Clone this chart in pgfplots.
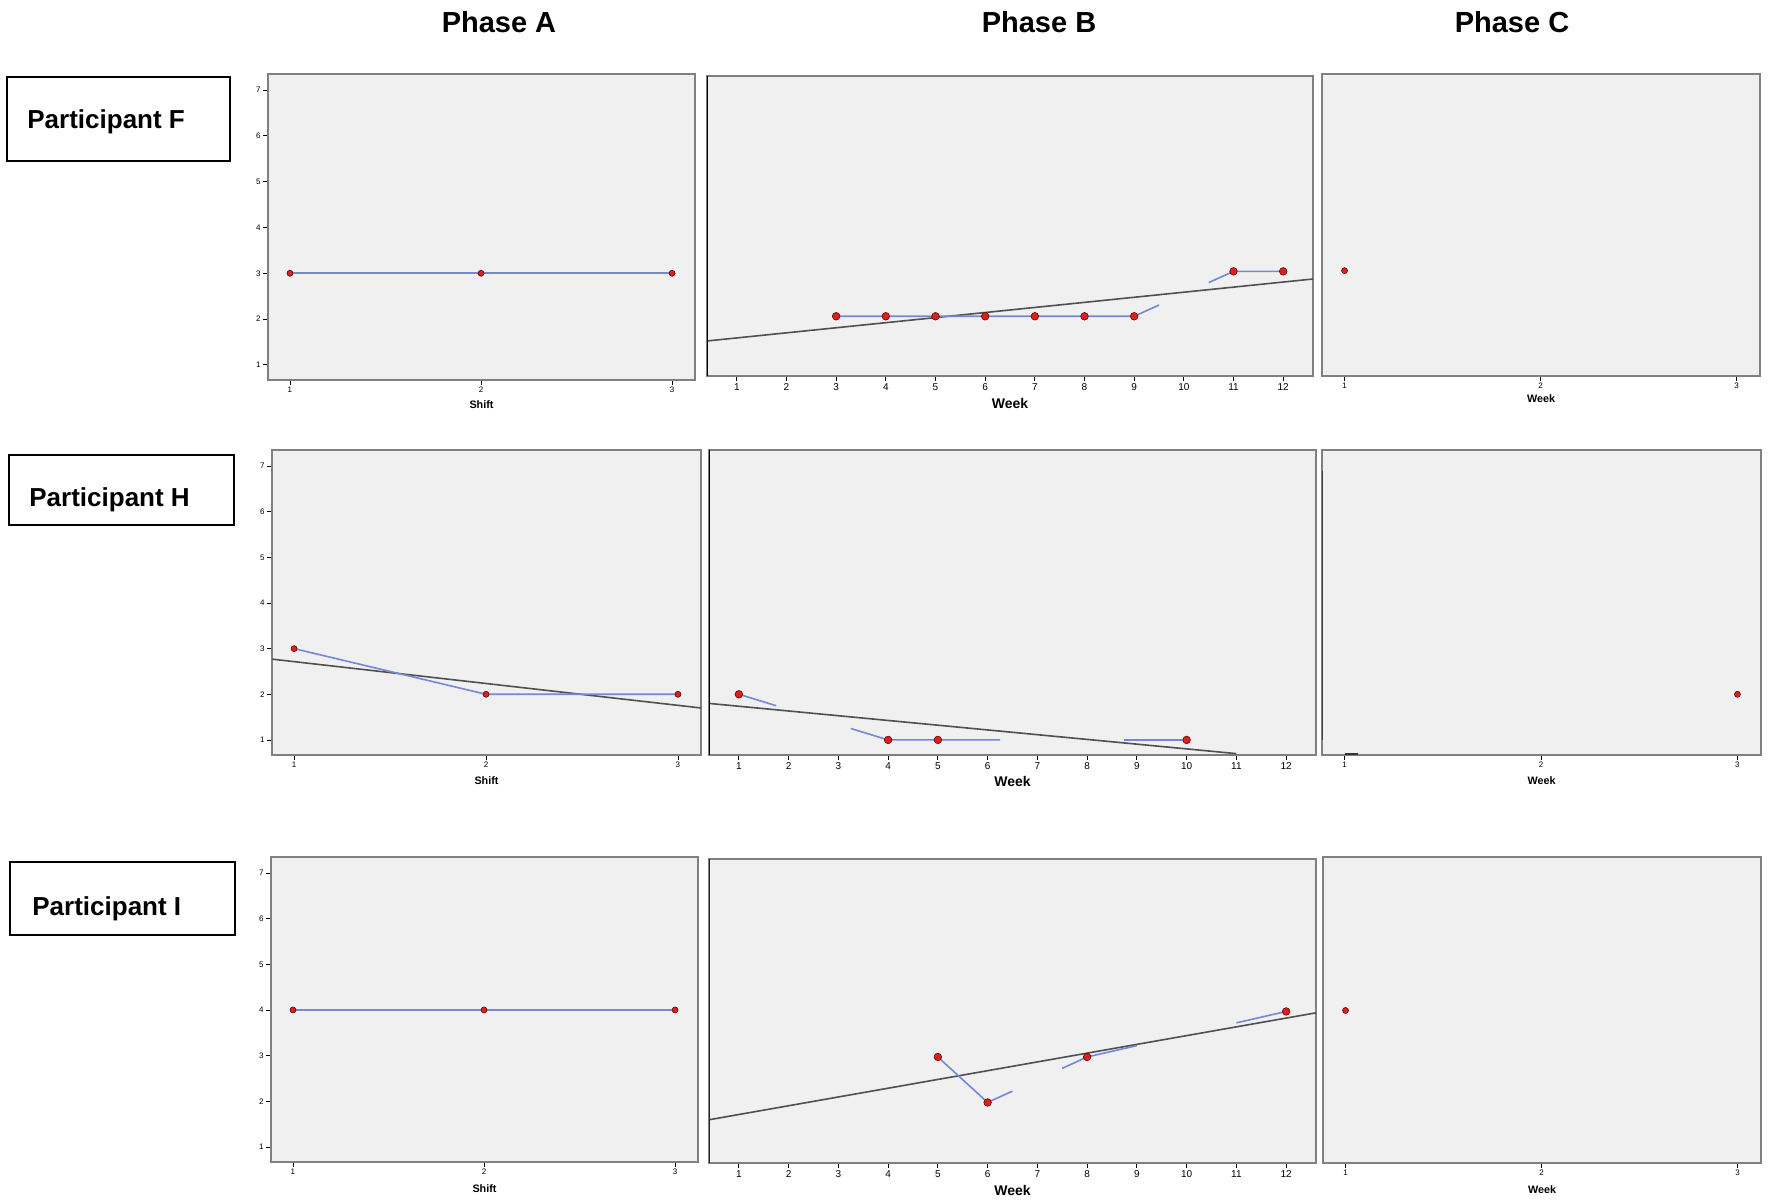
\documentclass[border=0pt]{standalone}
\usepackage{fontspec}
\setmainfont{Liberation Sans}
\usepackage{pgfplots}
\pgfplotsset{compat=1.18}
\definecolor{bgc}{RGB}{239,240,239}
\definecolor{framec}{RGB}{128,128,128}
\definecolor{linec}{RGB}{118,136,212}
\definecolor{trendc}{RGB}{80,80,80}
\definecolor{markc}{RGB}{220,32,32}
\pgfplotsset{
 panel/.style={scale only axis, anchor=north west,
   axis background/.style={fill=bgc},
   axis line style={draw=framec, line width=0.9pt},
   ymin=0.67, ymax=7.35,
   tick align=outside, tick pos=left, major tick length=2.5pt,
   every tick/.style={black, line width=0.4pt},
   /pgf/number format/assume math mode=true,
   tick label style={font=\fontsize{4}{5}\selectfont, inner sep=1pt},
   xlabel style={font=\bfseries\fontsize{5.4}{6}\selectfont, at={(axis description cs:0.5,0)}, anchor=center},
   clip=true},
 pA/.style={panel, xmin=0.885, xmax=3.12, xtick={1,2,3}, ytick={1,2,3,4,5,6,7}, xlabel={Shift}},
 pB/.style={panel, xmin=0.4, xmax=12.6, xtick={1,2,3,4,5,6,7,8,9,10,11,12}, ytick=\empty, xlabel={Week},
   xlabel style={font=\bfseries\fontsize{7}{8}\selectfont},
   tick label style={font=\fontsize{5}{6}\selectfont}},
 pC/.style={panel, xmin=0.885, xmax=3.12, xtick={1,2,3}, ytick=\empty, xlabel={Week}},
 ser/.style={linec, line width=0.8pt, no markers},
 trend/.style={trendc, line width=0.8pt, no markers},
 pts/.style={only marks, mark=*, mark size=1.5pt, mark options={fill=markc, draw=black!60!red, line width=0.3pt}},
 ptsB/.style={pts, mark size=1.9pt},
}
\begin{document}
\begin{tikzpicture}
\path[use as bounding box] (0pt,0pt) rectangle (884.5pt,-600pt);

% titles
\node[font=\bfseries\fontsize{14.5}{17}\selectfont] at (249.5pt,-11pt) {Phase A};
\node[font=\bfseries\fontsize{14.5}{17}\selectfont] at (519.5pt,-11pt) {Phase B};
\node[font=\bfseries\fontsize{14.5}{17}\selectfont] at (756pt,-11pt) {Phase C};

% participant boxes
\draw[line width=0.7pt] (3.5pt,-38.5pt) rectangle (115pt,-80.5pt);
\node[anchor=west, inner sep=0pt, font=\bfseries\fontsize{13}{15}\selectfont] at (13.5pt,-60.8pt) {Participant F};
\draw[line width=0.7pt] (4.5pt,-227.5pt) rectangle (117pt,-262.5pt);
\node[anchor=west, inner sep=0pt, font=\bfseries\fontsize{13}{15}\selectfont] at (14.5pt,-249.8pt) {Participant H};
\draw[line width=0.7pt] (5pt,-431pt) rectangle (117.5pt,-467.5pt);
\node[anchor=west, inner sep=0pt, font=\bfseries\fontsize{13}{15}\selectfont] at (16pt,-454.3pt) {Participant I};

% ---------------- Row 1: Participant F
\begin{axis}[pA, at={(134pt,-37pt)}, width=213.5pt, height=153pt, xlabel style={yshift=-12.5pt}]
\addplot[ser] coordinates {(1,3) (2,3) (3,3)};
\addplot[pts] coordinates {(1,3) (2,3) (3,3)};
\end{axis}
\begin{axis}[pB, at={(353.5pt,-38pt)}, width=303pt, height=150pt, xlabel style={yshift=-13.5pt}]
\addplot[trend] coordinates {(0.4,1.45) (12.6,2.83)};
\addplot[ser] coordinates {(3,2) (4,2) (5,2) (6,2) (7,2) (8,2) (9,2) (9.5,2.25)};
\addplot[ser] coordinates {(10.5,2.75) (11,3) (12,3)};
\addplot[ptsB] coordinates {(3,2) (4,2) (5,2) (6,2) (7,2) (8,2) (9,2) (11,3) (12,3)};
\draw[black, line width=1.2pt] (rel axis cs:0,0) -- (rel axis cs:0,1);
\end{axis}
\begin{axis}[pC, at={(661pt,-37pt)}, width=219pt, height=151pt, xlabel style={yshift=-11.5pt}]
\addplot[pts] coordinates {(1,3)};
\end{axis}

% ---------------- Row 2: Participant H
\begin{axis}[pA, at={(136pt,-225pt)}, width=214.5pt, height=152.5pt, xlabel style={yshift=-13pt}]
\addplot[trend] coordinates {(0.885,2.77) (3.12,1.70)};
\addplot[ser] coordinates {(1,3) (2,2) (3,2)};
\addplot[pts] coordinates {(1,3) (2,2) (3,2)};
\end{axis}
\begin{axis}[pB, at={(354.5pt,-225pt)}, width=303.5pt, height=152.5pt, xlabel style={yshift=-13pt}]
\addplot[trend] coordinates {(0.4,1.80) (11,0.70)};
\addplot[ser] coordinates {(1,2) (1.75,1.75)};
\addplot[ser] coordinates {(3.25,1.25) (4,1) (5,1) (6.25,1)};
\addplot[ser] coordinates {(8.75,1) (10,1)};
\addplot[ptsB] coordinates {(1,2) (4,1) (5,1) (10,1)};
\draw[black, line width=1.2pt] (rel axis cs:0,0) -- (rel axis cs:0,1);
\end{axis}
\begin{axis}[pC, at={(661pt,-225pt)}, width=219.5pt, height=152.5pt, xlabel style={yshift=-13pt}]
\addplot[pts] coordinates {(3,2)};
\draw[black!75, line width=1pt] (rel axis cs:0,0.05) -- (rel axis cs:0,0.93);
\draw[black!80, line width=0.8pt] (axis cs:1,0.69) -- (axis cs:1.07,0.69);
\end{axis}

% ---------------- Row 3: Participant I
\begin{axis}[pA, at={(135.5pt,-428.5pt)}, width=213.5pt, height=152.5pt, xlabel style={yshift=-13.5pt}]
\addplot[ser] coordinates {(1,4) (2,4) (3,4)};
\addplot[pts] coordinates {(1,4) (2,4) (3,4)};
\end{axis}
\begin{axis}[pB, at={(354.5pt,-429.5pt)}, width=303.5pt, height=152pt, xlabel style={yshift=-13.5pt}]
\addplot[trend] coordinates {(0.4,1.62) (12.6,3.97)};
\addplot[ser] coordinates {(5,3) (6,2) (6.5,2.25)};
\addplot[ser] coordinates {(7.5,2.75) (8,3) (9,3.25)};
\addplot[ser] coordinates {(11,3.75) (12,4)};
\addplot[ptsB] coordinates {(5,3) (6,2) (8,3) (12,4)};
\draw[black!85, line width=1.1pt] (rel axis cs:0,0) -- (rel axis cs:0,1);
\end{axis}
\begin{axis}[pC, at={(661.5pt,-428.5pt)}, width=219pt, height=153pt, xlabel style={yshift=-13.5pt}]
\addplot[pts] coordinates {(1,4)};
\end{axis}
\end{tikzpicture}
\end{document}
